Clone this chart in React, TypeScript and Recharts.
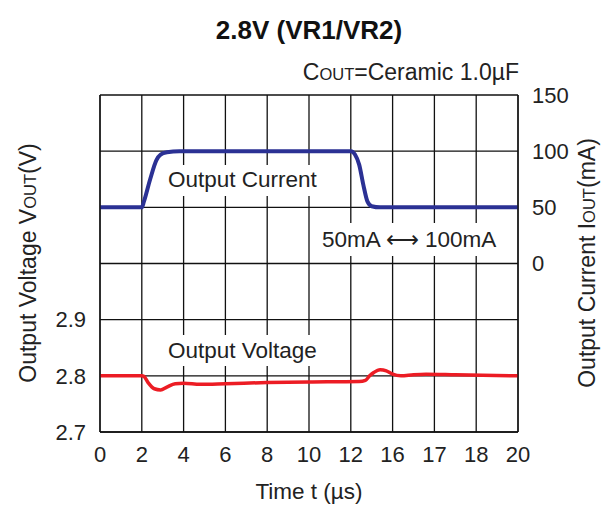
import { CartesianGrid, Line, LineChart, XAxis, YAxis } from "recharts"

// x positions are grid divisions (0..10); the axis is labelled with these times
const timeLabels = ["0", "2", "4", "6", "8", "10", "12", "16", "17", "18", "20"]

const currentPos = [0, 1.0, 1.05, 1.2, 1.35, 1.45, 1.6, 1.9, 6.0, 6.1, 6.2, 6.3, 6.4, 6.5, 6.7, 10]
const currentMA = [50, 50, 55, 75, 92, 97, 99, 100, 100, 97, 88, 70, 55, 51, 50, 50]

const voltagePos = [0, 1.0, 1.05, 1.15, 1.3, 1.45, 1.6, 1.8, 2.0, 2.4, 3.0, 4.0, 5.0, 6.2, 6.35, 6.45, 6.55, 6.7, 6.85, 7.0, 7.2, 7.5, 7.8, 8.5, 10]
const voltageV = [2.8, 2.8, 2.799, 2.788, 2.777, 2.775, 2.78, 2.786, 2.787, 2.785, 2.786, 2.788, 2.789, 2.79, 2.792, 2.8, 2.806, 2.811, 2.809, 2.803, 2.8, 2.802, 2.803, 2.802, 2.8]

const voltTicks = [2.7, 2.8, 2.9, 3.0, 3.1, 3.2, 3.3]
const currentTicks = [-150, -100, -50, 0, 50, 100, 150]

const currentData = currentPos.map((x, i) => ({ x, current: currentMA[i] }))
const voltageData = voltagePos.map((x, i) => ({ x, voltage: voltageV[i] }))

const font = "'Liberation Sans', Arial, sans-serif"
const tickStyle = { fontSize: 22, fill: "#222", fontFamily: font }

export default function App() {
  return (
    <div style={{ position: "absolute", left: 0, top: 0, width: 609, height: 505, background: "#fff", fontFamily: font }}>
      <LineChart width={609} height={505} margin={{ top: 95, right: 51, bottom: 43, left: 60 }}>
        <CartesianGrid yAxisId="v" stroke="#111" strokeWidth={1.3} />
        <XAxis
          type="number"
          dataKey="x"
          domain={[0, 10]}
          ticks={[0, 1, 2, 3, 4, 5, 6, 7, 8, 9, 10]}
          tickFormatter={(v) => timeLabels[v] ?? ""}
          tick={tickStyle}
          tickLine={false}
          tickSize={0}
          tickMargin={14}
          height={30}
          axisLine={{ stroke: "#111", strokeWidth: 1.3 }}
          allowDataOverflow
        />
        <YAxis
          yAxisId="v"
          domain={[2.7, 3.3]}
          ticks={voltTicks}
          tickFormatter={(v) => (v < 2.95 ? v.toFixed(1) : "")}
          tick={tickStyle}
          tickLine={false}
          tickSize={0}
          tickMargin={14}
          width={40}
          axisLine={{ stroke: "#111", strokeWidth: 1.3 }}
          allowDataOverflow
        />
        <YAxis
          yAxisId="i"
          orientation="right"
          domain={[-150, 150]}
          ticks={currentTicks}
          tickFormatter={(v) => (v >= 0 ? String(v) : "")}
          tick={{ ...tickStyle, textAnchor: "start" }}
          tickLine={false}
          tickSize={0}
          tickMargin={14}
          width={40}
          axisLine={{ stroke: "#111", strokeWidth: 1.3 }}
          allowDataOverflow
        />
        <Line
          yAxisId="i"
          data={currentData}
          dataKey="current"
          type="monotone"
          stroke="#2b3194"
          strokeWidth={4}
          dot={false}
          isAnimationActive={false}
        />
        <Line
          yAxisId="v"
          data={voltageData}
          dataKey="voltage"
          type="monotone"
          stroke="#ec1c24"
          strokeWidth={3.5}
          dot={false}
          isAnimationActive={false}
        />
      </LineChart>
      <svg width={609} height={505} style={{ position: "absolute", left: 0, top: 0, pointerEvents: "none" }}>
        {/* white boxes behind the in-plot notes, as in the original */}
        <rect x={164} y={165} width={166} height={31} fill="#fff" />
        <rect x={318} y={223} width={185} height={33} fill="#fff" />
        <rect x={164} y={335} width={166} height={31} fill="#fff" />
        <text x={309} y={39} textAnchor="middle" fontSize={26} fontWeight="bold" fill="#111" fontFamily={font}>
          2.8V (VR1/VR2)
        </text>
        <text x={519} y={80} textAnchor="end" fontSize={23} fill="#222" fontFamily={font}>
          C<tspan fontSize={16.5}>OUT</tspan>=Ceramic 1.0µF
        </text>
        <text x={168} y={187} fontSize={22.5} fill="#222" fontFamily={font}>
          Output Current
        </text>
        <text x={322} y={247} fontSize={22.5} fill="#222" fontFamily={font}>
          50mA ⟷ 100mA
        </text>
        <text x={168} y={358} fontSize={22.5} fill="#222" fontFamily={font}>
          Output Voltage
        </text>
        <text x={309} y={499} textAnchor="middle" fontSize={22.5} fill="#222" fontFamily={font}>
          Time t (µs)
        </text>
        <text
          transform="translate(36,263) rotate(-90)"
          textAnchor="middle"
          fontSize={23}
          fill="#222"
          fontFamily={font}
        >
          Output Voltage V<tspan fontSize={16.5}>OUT</tspan>(V)
        </text>
        <text
          transform="translate(595,263) rotate(-90)"
          textAnchor="middle"
          fontSize={23}
          fill="#222"
          fontFamily={font}
        >
          Output Current I<tspan fontSize={16.5}>OUT</tspan>(mA)
        </text>
      </svg>
    </div>
  )
}
